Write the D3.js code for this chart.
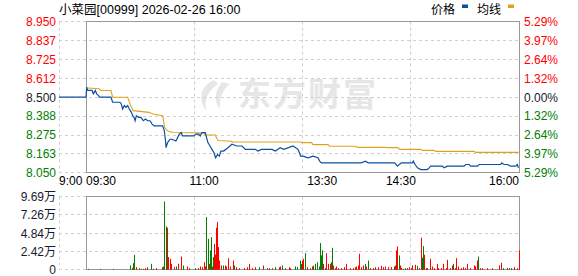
<html>
<head>
<meta charset="utf-8">
<script src="https://d3js.org/d3.v7.min.js"></script>
<style>
body { margin:0; background:#fff; }
text { font-family: "Liberation Sans", Arial, "Noto Sans CJK SC", sans-serif; font-size:12px; }
</style>
</head>
<body>
<svg id="chart" width="578" height="276"></svg>
<script>
// trading minutes after 09:30 (lunch break removed), -30 = 09:00 pre-open
var priceMin = [-30,0,0.5,1.3,4.6,5.6,7.1,8.1,9.6,10.1,19,20.3,25.9,26.9,27.9,29.2,30.5,31.8,33,34.6,35.6,36.6,37.4,38.4,40.2,41.9,43.7,45.3,47,48.8,50.3,52.1,58.4,59.7,60.5,61,62.2,64,65.5,68.5,71.1,72.6,73.6,82,83.8,85.8,87.1,88.4,90.9,91.9,92.9,94.5,96,97.5,98.8,100.3,101.6,102.8,104.9,108.2,111.2,115,118.9,121.4,123.9,129,131,133.6,141.7,144.3,148,150.6,154.4,157.8,161.6,163.6,165.4,169.2,173,176.8,178.1,179.4,183.2,187,189.5,209.8,212.9,215,235.3,237.3,240.3,245.4,248.8,249.5,250.8,252.6,255.1,260.2,261.5,262.7,271.6,272.9,275.4,280.5,283,288.1,289.4,292,293.2,298.3,299.6,316.1,316.8,318.6,321.2,323.7,327.5,328.8,329.5];
var priceVal = [8.50,8.50,8.56,8.54,8.54,8.52,8.54,8.52,8.51,8.50,8.50,8.47,8.47,8.46,8.43,8.45,8.44,8.45,8.43,8.41,8.39,8.38,8.36,8.39,8.38,8.38,8.36,8.37,8.36,8.36,8.34,8.33,8.33,8.30,8.25,8.20,8.23,8.25,8.25,8.24,8.28,8.29,8.27,8.27,8.28,8.28,8.27,8.29,8.29,8.26,8.23,8.21,8.19,8.17,8.14,8.16,8.15,8.18,8.18,8.20,8.22,8.21,8.21,8.19,8.19,8.19,8.18,8.19,8.19,8.18,8.20,8.19,8.20,8.21,8.19,8.15,8.15,8.14,8.15,8.14,8.12,8.11,8.11,8.11,8.11,8.11,8.12,8.11,8.11,8.09,8.11,8.11,8.11,8.12,8.10,8.08,8.07,8.07,8.08,8.09,8.09,8.08,8.09,8.09,8.09,8.09,8.10,8.10,8.09,8.09,8.10,8.10,8.11,8.10,8.10,8.09,8.09,8.10,8.08];

var avgMin = [1.3,10,11.4,19,20.3,31.8,34,36,48,51,58.4,60,62,66,89.6,91,98.5,100.5,111,111.5,164,164.6,172,173,184.5,185.7,204.8,207.3,227.6,230.2,237.8,239.1,255.1,256.4,265.3,266.5,295.8,297,329.8];
var avgVal = [8.555,8.55,8.54,8.54,8.50,8.50,8.45,8.42,8.41,8.40,8.39,8.32,8.30,8.29,8.288,8.275,8.275,8.243,8.238,8.234,8.234,8.23,8.23,8.218,8.218,8.208,8.208,8.202,8.202,8.20,8.20,8.19,8.19,8.184,8.184,8.178,8.178,8.172,8.172];

// volume in 万 shares, dir: 1 = up (red), 0 = down (green)
var volMin = [1.8,10.9,20.3,33.5,34.8,35.8,36.8,38.1,40.1,41.9,43.7,45.2,46.2,49.3,51.3,53.4,57.9,58.9,59.7,60.7,61.7,62.8,63.8,64.8,66.8,68.5,70.1,72.6,73.6,76.7,78.2,83.3,85.3,86.8,88.4,90.1,90.9,91.7,92.7,93.4,94.2,95,95.7,96.5,97.5,98.3,99,99.8,100.6,101.3,102.6,104.1,105.6,106.9,108.2,110,111.7,113,114.3,116.3,120.1,122.7,123.9,126.5,129,131.6,134.6,137.9,139.7,141.7,144.3,146.8,148.1,149.3,151.9,154.4,155.7,159.1,161.1,162.9,163.7,164.7,165.4,166.7,167.2,168.7,170.5,172.3,173.1,174.8,176.4,177.4,178.4,179.4,180.2,180.9,181.9,183.2,184.5,185.8,186.5,187.3,188.3,189.6,190.8,192.1,194.7,196.7,198.5,201,203.5,204.8,206.1,207.4,208.1,209.9,211.4,212.4,213.7,215,216.2,218.8,220.6,222.6,224.6,226.4,228.2,230.2,232.3,234.8,235.8,236.6,237.3,238.4,239.1,240.4,241.7,243.4,245,246.2,247.5,248.8,250.8,252.1,253.8,255.1,256.4,257.1,257.9,259.2,260.2,262.2,264,265.3,267.3,268.6,270.3,272.4,274.2,275.4,277.5,279,280,281,282.3,283.8,285.6,287.6,288.9,290.7,292.4,295.8,296.5,297.8,298.8,300.3,302.1,305.9,309.7,314.8,316.6,318.1,321.2,322.4,324.2,326.2,328.8,329.8];
var volVal = [0.13,0.13,0.13,0.57,0.26,0.88,1.98,0.35,0.22,0.13,0.13,0.22,0.35,0.79,0.13,0.22,0.35,0.44,9.04,5.73,5.56,1.68,1.46,0.79,0.35,0.44,0.79,1.76,0.57,0.44,0.22,0.22,0.22,0.44,0.35,1.01,0.44,6.97,4.1,0.79,2.56,4.32,0.44,1.68,3.44,2.03,5.56,6.31,3.0,1.23,0.57,0.57,0.57,0.44,1.54,0.44,1.23,0.57,0.35,0.22,0.22,0.35,0.79,0.22,0.35,0.35,0.57,0.22,0.22,0.22,0.35,0.35,0.44,0.57,0.22,0.35,0.22,0.44,0.35,1.23,0.79,1.23,1.46,1.59,2.2,0.35,0.22,0.44,0.57,0.79,1.01,0.44,3.53,1.9,2.56,0.79,0.22,2.2,0.79,0.79,1.01,2.91,0.57,0.22,0.44,0.22,0.22,0.35,0.79,0.22,0.22,0.35,0.44,0.57,2.12,0.35,0.57,0.79,0.44,1.23,0.22,0.22,0.35,0.35,0.53,0.35,0.44,0.35,0.35,0.44,0.57,2.56,3.09,1.9,0.57,0.26,0.13,0.22,0.22,0.35,0.22,0.57,0.66,0.53,0.22,4.23,1.59,3.13,1.98,0.22,0.22,1.46,0.44,0.22,0.79,0.22,0.22,0.79,0.22,1.32,0.22,0.57,0.79,0.22,1.54,0.44,0.22,0.35,0.22,0.79,0.22,0.57,0.44,1.23,1.76,0.22,0.22,0.22,0.22,0.57,0.93,0.22,0.26,0.22,0.22,0.35,0.22,2.56];
var volDir = [1,0,1,0,1,0,0,1,1,0,0,1,1,0,1,1,1,0,0,0,1,1,1,1,1,0,1,1,0,1,1,0,1,1,1,1,1,0,0,1,0,0,1,0,1,1,1,1,1,1,1,0,1,1,1,1,1,0,1,1,1,1,1,1,1,0,1,0,1,1,0,1,1,0,1,1,1,0,0,0,0,1,1,1,0,1,1,0,1,0,0,0,0,0,0,1,1,1,1,1,0,0,1,1,1,1,1,1,1,1,1,1,1,1,1,1,1,0,1,0,1,1,1,1,1,1,1,1,1,0,1,1,1,0,1,1,0,0,1,1,1,1,1,0,1,1,0,0,1,1,1,1,1,1,1,1,1,1,1,1,1,1,0,1,1,1,1,1,1,1,1,1,1,1,0,1,1,1,1,1,1,0,0,1,0,1,1,1,1,0];

var priceTicks = [8.950,8.837,8.725,8.612,8.500,8.388,8.275,8.163,8.050];
var pctTicks = ["5.29%","3.97%","2.64%","1.32%","0.00%","1.32%","2.64%","3.97%","5.29%"];
var volTicks = [0,2.42,4.84,7.26,9.69];
var timeTicks = [-30,0,90,180,240,330];
var timeLabels = ["9:00","09:30","11:00","13:30","14:30","16:00"];
var preClose = 8.50;

var title = "小菜园[00999] 2026-02-26 16:00";
var red = "#ff0000", green = "#008000", dark = "#1a1a2e";
var blue = "#0b50a3", gold = "#e0a21e";

var svg = d3.select("#chart");
var x = d3.scaleLinear().domain([-30, 0, 330]).range([59, 86, 519]);
var yP = d3.scaleLinear().domain([8.05, 8.95]).range([172.9, 21.5]);
var yV = d3.scaleLinear().domain([0, 9.69]).range([269.8, 196.5]);
var px = function(v) { return Math.floor(v) + 0.5; };
var colorOf = function(p) { return Math.abs(p - preClose) < 1e-6 ? dark : (p > preClose ? red : green); };

// watermark
var wm = svg.append("g").attr("fill", "#e6e6e6");
wm.append("path").attr("d", "M214,80 C200,86 198,100 206,110 C204,100 208,90 218,84 Z M222,82 C214,92 214,102 220,109 C219,99 222,90 230,84 Z");
wm.append("text").attr("x", 238).attr("y", 106).style("font-size", "33px").style("font-weight", "bold")
	.style("font-family", "'Noto Sans CJK SC', sans-serif").attr("letter-spacing", 2).text("东方财富");

// grid
var grid = svg.append("g").attr("stroke", "#cfcfcf").attr("stroke-dasharray", "3,3").attr("fill", "none");
priceTicks.forEach(function(t) {
	grid.append("line").attr("x1", 59).attr("x2", 519).attr("y1", px(yP(t))).attr("y2", px(yP(t)));
});
volTicks.forEach(function(t) {
	grid.append("line").attr("x1", 59).attr("x2", 519).attr("y1", px(yV(t))).attr("y2", px(yV(t)));
});
[x(-30), x(82.5), x(165), x(247.5)].forEach(function(v) {
	grid.append("line").attr("x1", px(v)).attr("x2", px(v)).attr("y1", px(yP(8.95))).attr("y2", px(yP(8.05)));
	grid.append("line").attr("x1", px(v)).attr("x2", px(v)).attr("y1", px(yV(9.69))).attr("y2", px(yV(0)));
});

// frames
svg.append("rect").attr("x", px(x(0))).attr("y", px(yP(8.95)))
	.attr("width", Math.floor(x(330)) - Math.floor(x(0))).attr("height", Math.floor(yP(8.05)) - Math.floor(yP(8.95)))
	.attr("fill", "none").attr("stroke", "#999");
svg.append("rect").attr("x", px(x(0))).attr("y", px(yV(9.69)))
	.attr("width", Math.floor(x(330)) - Math.floor(x(0))).attr("height", Math.floor(yV(0)) - Math.floor(yV(9.69)))
	.attr("fill", "none").attr("stroke", "#999");

// price axis labels
svg.append("g").selectAll("text").data(priceTicks).join("text")
	.attr("x", 56).attr("y", function(d) { return yP(d); }).attr("dy", "0.36em")
	.attr("text-anchor", "end").attr("fill", colorOf)
	.text(function(d) { return d.toFixed(3); });
svg.append("g").selectAll("text").data(pctTicks).join("text")
	.attr("x", 524).attr("y", function(d, i) { return yP(priceTicks[i]); }).attr("dy", "0.36em")
	.attr("fill", function(d, i) { return colorOf(priceTicks[i]); })
	.text(function(d) { return d; });

// time labels
svg.append("g").selectAll("text").data(timeTicks).join("text")
	.attr("x", function(d) { return x(d); }).attr("y", 185)
	.attr("text-anchor", function(d, i) { return i < 2 ? "start" : (i == timeTicks.length - 1 ? "end" : "middle"); })
	.attr("fill", "#000")
	.text(function(d, i) { return timeLabels[i]; });

// volume labels
svg.append("g").selectAll("text").data(volTicks).join("text")
	.attr("x", 56).attr("y", function(d) { return yV(d); }).attr("dy", "0.36em")
	.attr("text-anchor", "end").attr("fill", dark)
	.text(function(d) { return d == 0 ? "0" : d.toFixed(2) + "万"; });

// volume bars
var vols = volMin.map(function(m, i) { return {m:m, v:volVal[i], up:volDir[i]}; });
svg.append("g").selectAll("rect").data(vols).join("rect")
	.attr("x", function(d) { return Math.round(x(d.m)); })
	.attr("y", function(d) { return yV(d.v); })
	.attr("width", 1)
	.attr("height", function(d) { return yV(0) - yV(d.v); })
	.attr("fill", function(d) { return d.up ? red : green; });

// lines
var prices = priceMin.map(function(m, i) { return [m, priceVal[i]]; });
var avgs = avgMin.map(function(m, i) { return [m, avgVal[i]]; });
var line = d3.line().x(function(d) { return x(d[0]); }).y(function(d) { return yP(d[1]); });
svg.append("path").datum(avgs).attr("d", line).attr("fill", "none").attr("stroke", gold).attr("stroke-width", 1.1);
svg.append("path").datum(prices).attr("d", line).attr("fill", "none").attr("stroke", blue).attr("stroke-width", 1.2);

// title and legend
svg.append("text").attr("x", 59).attr("y", 14).attr("fill", "#000").style("font-size", "12.5px").text(title);
svg.append("text").attr("x", 431).attr("y", 14).attr("fill", "#000").text("价格");
svg.append("rect").attr("x", 462).attr("y", 4.5).attr("width", 6).attr("height", 3.5).attr("fill", blue);
svg.append("text").attr("x", 477).attr("y", 14).attr("fill", "#000").text("均线");
svg.append("rect").attr("x", 508).attr("y", 4.5).attr("width", 6).attr("height", 3.5).attr("fill", gold);
</script>
</body>
</html>
